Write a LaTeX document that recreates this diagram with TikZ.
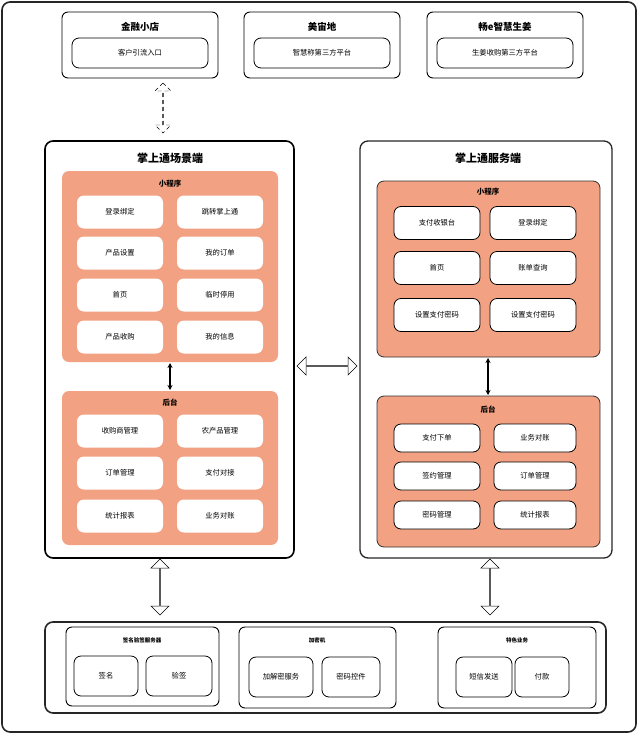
\documentclass[tikz,border=0pt]{standalone}
\usepackage{fontspec}
\setmainfont{Noto Sans CJK SC}
\usetikzlibrary{shapes.arrows,arrows.meta}
\definecolor{org}{HTML}{F2A283}
\begin{document}
\begin{tikzpicture}[x=1pt,y=-1pt,font=\fontsize{7.3}{8}\selectfont,
 box/.style={draw,rounded corners=6pt,line width=0.9pt},
 orgbox/.style={fill=org,rounded corners=7pt},
 wit/.style={fill=white,rounded corners=7pt,minimum width=86pt,minimum height=33pt},
 wid/.style={draw,line width=0.8pt,fill=white,rounded corners=7pt,minimum width=86pt,minimum height=33pt},
 title/.style={font=\fontsize{11}{12}\selectfont\bfseries},
 sub/.style={font=\fontsize{7.5}{8}\selectfont\bfseries},
 harr/.style={double arrow,draw,fill=white,double arrow head extend=4pt,double arrow head indent=0pt,minimum height=56pt,minimum width=18pt,inner sep=0pt,line width=0.5pt}]
\useasboundingbox (0,0) rectangle (640,736);
\draw[line width=1.6pt,draw=black!85,rounded corners=8pt] (2,2) rectangle (636,732);
% top
\foreach \x/\t/\s/\n in {62/金融小店/客户引流入口/a,244/美宙地/智慧称第三方平台/b,427/畅e智慧生姜/生姜收购第三方平台/c}{
 \draw[box] (\x,12) rectangle ++(156,66);
 \node[title,font=\fontsize{9.5}{10}\selectfont\bfseries] at (\x+78,27) {\t};
 \node[wid,minimum width=136pt,minimum height=30pt] (top\n) at (\x+78,53) {\s};
}
% dashed arrow
\node[double arrow,draw,dash pattern=on 4pt off 3pt,rotate=90,double arrow head extend=4pt,minimum height=50pt,minimum width=16pt,inner sep=0pt] (da) at (163,108) {};
% left big
\draw[line width=1.6pt,rounded corners=8pt] (45,141) rectangle (294,558);
\node[title] at (170,158) {掌上通场景端};
\fill[orgbox] (62,171) rectangle (278,362);
\node[sub] (lmp) at (170,184) {小程序};
\foreach \y/\a/\b in {212/登录绑定/跳转掌上通,253/产品设置/我的订单,295/首页/临时停用,337/产品收购/我的信息}{
 \node[wit] at (120,\y) {\a}; \node[wit] at (220,\y) {\b};}
\fill[orgbox] (62,391) rectangle (278,545);
\node[sub] (lbk) at (170,403) {后台};
\foreach \y/\a/\b in {431/收购商管理/农产品管理,473/订单管理/支付对接,516/统计报表/业务对账}{
 \node[wit] at (120,\y) {\a}; \node[wit] at (220,\y) {\b};}
\coordinate (l1) at (170,363); \coordinate (l2) at (170,390);
\draw[{Stealth[length=5pt,width=5pt]}-{Stealth[length=5pt,width=5pt]},line width=1.2pt] (l1) -- (l2);
% right big
\draw[line width=1.3pt,draw=black!85,rounded corners=8pt] (360,141) rectangle (612,558);
\node[title] at (488,158) {掌上通服务端};
\draw[orgbox,draw=black!80,line width=0.8pt] (377,181) rectangle (600,357);
\node[sub] at (488,192) {小程序};
\foreach \y/\a/\b in {223/支付收银台/登录绑定,268/首页/账单查询,315/设置支付密码/设置支付密码}{
 \node[wid] at (437,\y) {\a}; \node[wid] at (533,\y) {\b};}
\draw[orgbox,draw=black!80,line width=0.8pt] (377,396) rectangle (600,547);
\node[sub] at (488,410) {后台};
\foreach \y/\a/\b in {438/支付下单/业务对账,476/签约管理/订单管理,515/密码管理/统计报表}{
 \node[wid,minimum width=86pt,minimum height=28pt] at (437,\y) {\a}; \node[wid,minimum width=82pt,minimum height=28pt] at (535,\y) {\b};}
\coordinate (r1) at (488,358); \coordinate (r2) at (488,395);
\draw[{Stealth[length=5pt,width=5pt]}-{Stealth[length=5pt,width=5pt]},line width=1.2pt] (r1) -- (r2);
% hollow arrows
\node[harr,minimum height=60pt] at (327,366) {};
\node[harr,rotate=90] at (160,587) {};
\node[harr,rotate=90] at (490,587) {};
% bottom
\draw[line width=1.6pt,draw=black!85,rounded corners=8pt] (45,622) rectangle (606,713);
\tikzset{bx/.style={draw,line width=0.8pt,rounded corners=7pt,minimum height=40pt,inner sep=1pt}}
\draw[box] (66,627) rectangle (219,706); \node[font=\fontsize{5.5}{6}\selectfont\bfseries] at (142,640) {签名验签服务器};
\node[bx,minimum width=64pt] at (106,676) {签名}; \node[bx,minimum width=66pt] at (179,676) {验签};
\draw[box] (239,627) rectangle (396,708); \node[font=\fontsize{5.5}{6}\selectfont\bfseries] at (317,640) {加密机};
\node[bx,minimum width=64pt] at (281,677) {加解密服务}; \node[bx,minimum width=58pt] at (351,677) {密码控件};
\draw[box] (438,627) rectangle (596,708); \node[font=\fontsize{5.5}{6}\selectfont\bfseries] at (517,640) {特色业务};
\node[bx,minimum width=56pt] at (484,677) {短信发送}; \node[bx,minimum width=54pt] at (542,677) {付款};
\end{tikzpicture}
\end{document}
